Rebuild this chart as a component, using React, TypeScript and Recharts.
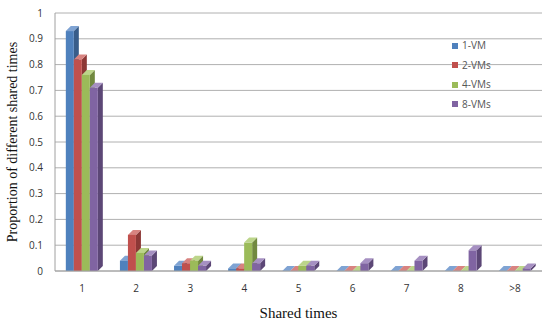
import { BarChart, Bar, XAxis, YAxis, CartesianGrid } from 'recharts'

const CATEGORIES = ['1', '2', '3', '4', '5', '6', '7', '8', '>8']
const VM1 = [0.93, 0.04, 0.02, 0.01, 0, 0, 0, 0, 0]
const VM2 = [0.82, 0.14, 0.03, 0.01, 0, 0, 0, 0, 0]
const VM4 = [0.76, 0.07, 0.04, 0.11, 0.02, 0, 0, 0, 0]
const VM8 = [0.71, 0.06, 0.02, 0.03, 0.02, 0.03, 0.04, 0.08, 0.01]
const Y_TICKS = [0, 0.1, 0.2, 0.3, 0.4, 0.5, 0.6, 0.7, 0.8, 0.9, 1]

const data = CATEGORIES.map((c, i) => ({
  name: c,
  vm1: VM1[i],
  vm2: VM2[i],
  vm4: VM4[i],
  vm8: VM8[i],
}))

const SERIES = [
  { key: 'vm1', name: '1-VM', color: '#4F81BD', side: '#385D8A', top: '#7FA3D3' },
  { key: 'vm2', name: '2-VMs', color: '#C0504D', side: '#8C3836', top: '#D88380' },
  { key: 'vm4', name: '4-VMs', color: '#9BBB59', side: '#71893F', top: '#BCD58A' },
  { key: 'vm8', name: '8-VMs', color: '#8064A2', side: '#5C4776', top: '#A690C2' },
]

const D = 5

function box(side: string, top: string) {
  return (props: any) => {
    const { x, y, width, height, fill } = props
    if (x == null || y == null) return null
    const h = Math.max(height, 0)
    return (
      <g>
        <polygon
          points={`${x + width},${y} ${x + width + D},${y - D} ${x + width + D},${y + h - D} ${x + width},${y + h}`}
          fill={side}
        />
        <polygon
          points={`${x},${y} ${x + D},${y - D} ${x + width + D},${y - D} ${x + width},${y}`}
          fill={top}
        />
        <rect x={x} y={y} width={width} height={h} fill={fill} />
      </g>
    )
  }
}

export default function App() {
  return (
    <div style={{ position: 'absolute', left: 0, top: 0, width: 550, height: 322, background: '#fff' }}>
      <BarChart
        width={550}
        height={322}
        data={data}
        margin={{ top: 13, right: 8, left: 0, bottom: 0 }}
        barCategoryGap="20%"
        barGap={0}
      >
        <CartesianGrid vertical={false} stroke="#b0b0b0" />
        <XAxis
          dataKey="name"
          height={51}
          tick={{ fontSize: 10, fill: '#333', fontFamily: 'Open Sans' }}
          tickLine={false}
          axisLine={{ stroke: '#a0a0a0' }}
          tickMargin={8}
          label={{
            value: 'Shared times',
            position: 'insideBottom',
            offset: 4,
            style: { fontFamily: 'Liberation Serif', fontSize: 15, fill: '#111' },
          }}
        />
        <YAxis
          width={55}
          domain={[0, 1]}
          ticks={Y_TICKS}
          interval={0}
          tick={{ fontSize: 10, fill: '#333', fontFamily: 'Open Sans' }}
          tickLine={false}
          axisLine={{ stroke: '#a0a0a0' }}
          tickMargin={6}
          label={{
            value: 'Proportion of different shared times',
            angle: -90,
            position: 'center',
            dx: -15,
            style: { textAnchor: 'middle', fontFamily: 'Liberation Serif', fontSize: 14, fill: '#111' },
          }}
        />
        {SERIES.map((s) => (
          <Bar
            key={s.key}
            dataKey={s.key}
            name={s.name}
            fill={s.color}
            shape={box(s.side, s.top)}
            isAnimationActive={false}
          />
        ))}
      </BarChart>
      <div
        style={{
          position: 'absolute',
          left: 452,
          top: 36,
          fontSize: 10,
          fontFamily: 'Open Sans',
          color: '#555',
          lineHeight: '19.5px',
        }}
      >
        {SERIES.map((s) => (
          <div key={s.key} style={{ display: 'flex', alignItems: 'center' }}>
            <span style={{ width: 6, height: 6, background: s.color, marginRight: 4, display: 'inline-block' }} />
            {s.name}
          </div>
        ))}
      </div>
    </div>
  )
}
